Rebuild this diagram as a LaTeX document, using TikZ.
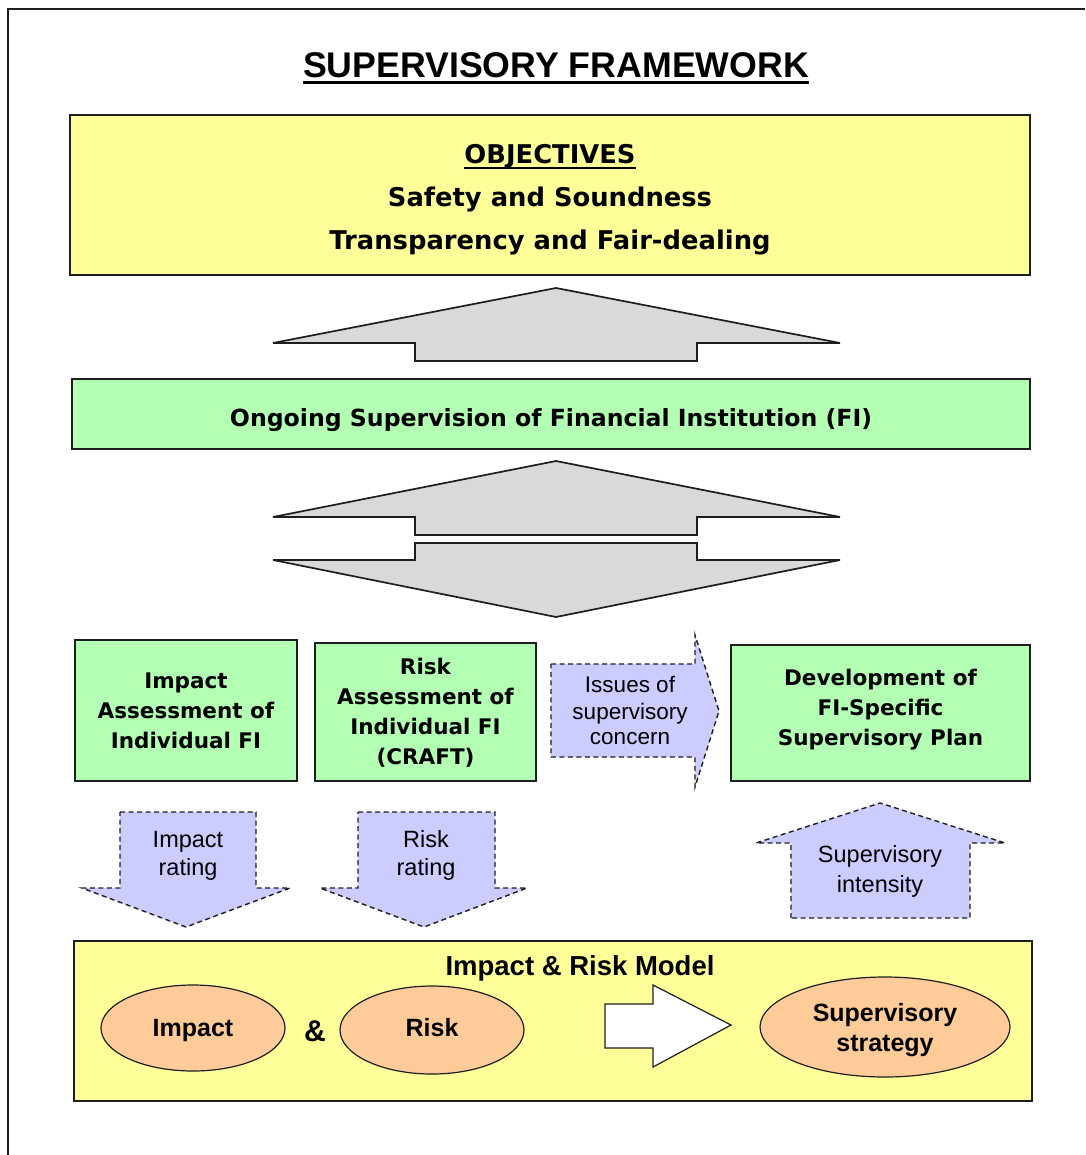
\documentclass[tikz,border=0pt]{standalone}
\usepackage{fontspec}
\setmainfont{Liberation Sans}
\newfontfamily\vfont{DejaVu Sans}
\usetikzlibrary{shapes.geometric}
\definecolor{objyellow}{RGB}{255,255,153}
\definecolor{boxgreen}{RGB}{179,255,179}
\definecolor{arrowgray}{RGB}{217,217,217}
\definecolor{lav}{RGB}{204,204,255}
\definecolor{peach}{RGB}{255,204,153}
\definecolor{edge}{RGB}{30,30,30}
\begin{document}
\begin{tikzpicture}[x=1pt,y=-1pt,
  box/.style={draw=edge,line width=1.4pt,rectangle,inner sep=0pt},
  ybox/.style={box,fill=objyellow},
  gbox/.style={box,fill=boxgreen},
  bigarrow/.style={draw=edge,line width=1.7pt,fill=arrowgray,line join=miter},
  dasharrow/.style={draw=edge,line width=1.4pt,fill=lav,dash pattern=on 5pt off 3.5pt},
  oval/.style={ellipse,draw=edge,line width=1.2pt,fill=peach,inner sep=0pt},
  vtxt/.style={inner sep=0pt,anchor=base,font=\vfont\bfseries\fontsize{21.5}{26}\selectfont},
  otxt/.style={vtxt,font=\vfont\bfseries\fontsize{25.8}{30}\selectfont},
  atxt/.style={inner sep=0pt,anchor=base,font=\fontsize{23.5}{26}\selectfont},
  etxt/.style={inner sep=0pt,anchor=base,font=\bfseries\fontsize{25}{28}\selectfont}]
\useasboundingbox (0,0) rectangle (1085,1155);
\fill[white] (0,0) rectangle (1085,1155);
\draw[line width=1.6pt,draw=edge] (8,1155) -- (8,9) -- (1085,9);

% title
\node[inner sep=0pt,anchor=base,font=\bfseries\fontsize{35.7}{40}\selectfont] (title) at (556,78) {SUPERVISORY FRAMEWORK};
\draw[line width=3pt] ([yshift=-4.5pt]title.base west) -- ([yshift=-4.5pt]title.base east);

% objectives
\node[ybox,minimum width=960pt,minimum height=160pt] (obj) at (550,195) {};
\node[otxt] (objh) at (550,164) {OBJECTIVES};
\draw[line width=2.2pt] ([yshift=-4pt]objh.base west) -- ([yshift=-4pt]objh.base east);
\node[otxt] (obj1) at (550,207) {Safety and Soundness};
\node[otxt] (obj2) at (550,250) {Transparency and Fair-dealing};

% arrow up 1
\draw[bigarrow] (273,343) -- (556,288) -- (840,343) -- (697,343) -- (697,361) -- (415,361) -- (415,343) -- cycle;

% ongoing supervision
\node[gbox,minimum width=958pt,minimum height=70pt] (ongo) at (551,414) {};
\node[vtxt,font=\vfont\bfseries\fontsize{23.6}{28}\selectfont] (ongot) at (551,426) {Ongoing Supervision of Financial Institution (FI)};

% double arrow
\draw[bigarrow] (273,517) -- (556,461) -- (840,517) -- (697,517) -- (697,535) -- (415,535) -- (415,517) -- cycle;
\draw[bigarrow] (415,543) -- (697,543) -- (697,560) -- (840,560) -- (556,617) -- (273,560) -- (415,560) -- cycle;

% impact assessment box
\node[gbox,minimum width=222pt,minimum height=141pt] (impbox) at (186,710.5) {};
\node[vtxt] (imp1) at (186,688) {Impact};
\node[vtxt] (imp2) at (186,718) {Assessment of};
\node[vtxt] (imp3) at (186,748) {Individual FI};

% risk assessment box
\node[gbox,minimum width=221pt,minimum height=138pt] (riskbox) at (425.5,712) {};
\node[vtxt] (rsk1) at (425.5,674) {Risk};
\node[vtxt] (rsk2) at (425.5,704) {Assessment of};
\node[vtxt] (rsk3) at (425.5,734) {Individual FI};
\node[vtxt] (rsk4) at (425.5,764) {(CRAFT)};

% issues arrow
\draw[dasharrow] (551,664) -- (695,664) -- (695,635) -- (719,711) -- (695,787) -- (695,757) -- (551,757) -- cycle;
\node[atxt,font=\fontsize{22.5}{26}\selectfont] (iss1) at (630,692) {Issues of};
\node[atxt,font=\fontsize{22.5}{26}\selectfont] (iss2) at (630,719) {supervisory};
\node[atxt,font=\fontsize{22.5}{26}\selectfont] (iss3) at (630,744) {concern};

% development box
\node[gbox,minimum width=299pt,minimum height=136pt] (devbox) at (880.5,713) {};
\node[vtxt] (dev1) at (880.5,685) {Development of};
\node[vtxt] (dev2) at (880.5,715) {FI-Specific};
\node[vtxt] (dev3) at (880.5,745) {Supervisory Plan};

% rating arrows
\draw[dasharrow] (120,812) -- (256,812) -- (256,888) -- (290,888) -- (186,927) -- (82,888) -- (120,888) -- cycle;
\node[atxt] (ir1) at (188,847) {Impact};
\node[atxt] (ir2) at (188,875) {rating};
\draw[dasharrow] (358,812) -- (495,812) -- (495,888) -- (527,888) -- (424,927) -- (320,888) -- (358,888) -- cycle;
\node[atxt] (rr1) at (426,847) {Risk};
\node[atxt] (rr2) at (426,875) {rating};

% intensity arrow
\draw[dasharrow] (791,918) -- (791,843) -- (756,843) -- (880,803) -- (1005,843) -- (970,843) -- (970,918) -- cycle;
\node[atxt] (si1) at (880,862) {Supervisory};
\node[atxt] (si2) at (880,892) {intensity};

% model box
\node[ybox,minimum width=958pt,minimum height=160pt] (model) at (553,1021) {};
\node[etxt,font=\bfseries\fontsize{27.5}{30}\selectfont] (modelt) at (580,975) {Impact \& Risk Model};
\node[oval,minimum width=184pt,minimum height=86pt] (eimp) at (193,1028) {};
\node[etxt] (eimpt) at (193,1036) {Impact};
\node[etxt,font=\bfseries\fontsize{30}{32}\selectfont] (amp) at (315,1041) {\&};
\node[oval,minimum width=184pt,minimum height=88pt] (erisk) at (432,1030) {};
\node[etxt] (eriskt) at (432,1036) {Risk};
\draw[draw=edge,line width=1.2pt,fill=white] (605,1004) -- (653,1004) -- (653,985) -- (731,1025) -- (653,1067) -- (653,1048) -- (605,1048) -- cycle;
\node[oval,minimum width=250pt,minimum height=100pt] (estr) at (885,1027) {};
\node[etxt] (estr1) at (885,1021) {Supervisory};
\node[etxt] (estr2) at (885,1051) {strategy};
\end{tikzpicture}
\end{document}
